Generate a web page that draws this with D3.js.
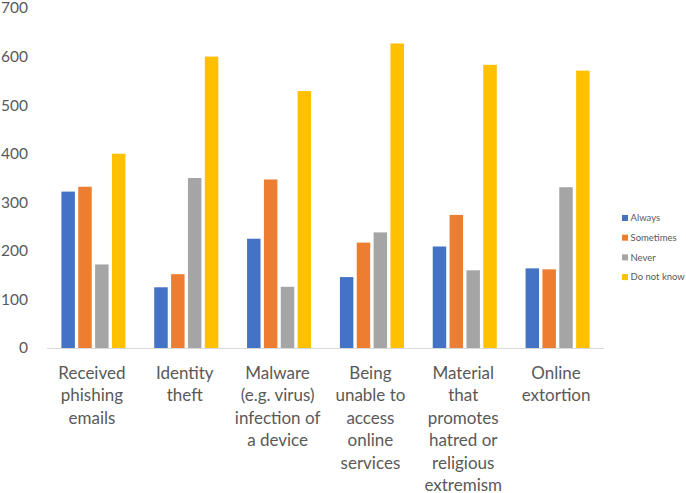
<!DOCTYPE html>
<html><head><meta charset="utf-8">
<script src="https://cdn.jsdelivr.net/npm/d3@7"></script>
<style>html,body{margin:0;padding:0;background:#fff;}svg{display:block;}</style>
</head><body>
<svg id="chart" width="686" height="493"></svg>
<script>
const categories = ["Received phishing emails","Identity theft","Malware (e.g. virus) infection of a device","Being unable to access online services","Material that promotes hatred or religious extremism","Online extortion"];
const categoryLines = [
  ["Received","phishing","emails"],
  ["Identity","theft"],
  ["Malware","(e.g. virus)","infection of","a device"],
  ["Being","unable to","access","online","services"],
  ["Material","that","promotes","hatred or","religious","extremism"],
  ["Online","extortion"]
];
const seriesNames = ["Always","Sometimes","Never","Do not know"];
const always    = [322, 125, 225, 146, 209, 164];
const sometimes = [332, 152, 347, 217, 274, 162];
const never     = [172, 350, 126, 238, 160, 331];
const doNotKnow = [400, 600, 529, 627, 583, 571];
const yTicks = [0,100,200,300,400,500,600,700];
const colors = ["#4472C4","#ED7D31","#A5A5A5","#FFC000"];

(function () {
const seriesValues = [always, sometimes, never, doNotKnow];
const svg = d3.select("#chart");
const mLeft = 47, mRight = 604, mTop = 8, mBottom = 348;

const x0 = d3.scaleBand().domain(categories).range([mLeft, mRight]).padding(0);
const groupPad = 14.4;
const x1 = d3.scaleBand().domain(seriesNames).range([groupPad, x0.bandwidth() - groupPad]).paddingInner(0.2).paddingOuter(0);
const y = d3.scaleLinear().domain([0, 700]).range([mBottom, mTop]);

const font = "Lato, 'Open Sans', sans-serif";

// y axis
const yAxis = svg.append("g").attr("transform", `translate(${mLeft},0)`)
  .call(d3.axisLeft(y).tickValues(yTicks).tickSize(0).tickPadding(19));
yAxis.select(".domain").remove();
yAxis.selectAll("text").attr("font-family", font).attr("font-size", 15.5).attr("fill", "#595959");

// bars
const groups = svg.append("g").selectAll("g").data(categories).join("g")
  .attr("transform", d => `translate(${x0(d)},0)`);
groups.selectAll("rect").data((d, i) => seriesNames.map((s, j) => ({s, v: seriesValues[j][i], c: colors[j]})))
  .join("rect")
  .attr("x", d => x1(d.s)).attr("width", x1.bandwidth())
  .attr("y", d => y(d.v)).attr("height", d => y(0) - y(d.v))
  .attr("fill", d => d.c);

// x axis line
svg.append("line").attr("x1", mLeft).attr("x2", mRight).attr("y1", mBottom + 0.5).attr("y2", mBottom + 0.5)
  .attr("stroke", "#D9D9D9").attr("stroke-width", 1);

// category labels
const lab = svg.append("g");
categories.forEach((c, i) => {
  const cx = x0(c) + x0.bandwidth() / 2 - 1.5;
  const t = lab.append("text").attr("x", cx).attr("y", 378.5)
    .attr("text-anchor", "middle").attr("font-family", font).attr("font-size", 17).attr("fill", "#595959");
  categoryLines[i].forEach((ln, k) => {
    t.append("tspan").attr("x", cx).attr("dy", k === 0 ? 0 : 22.5).text(ln);
  });
});

// legend
const leg = svg.append("g").attr("transform", "translate(622,218)");
seriesNames.forEach((s, j) => {
  const g = leg.append("g").attr("transform", `translate(0,${j * 19.7})`);
  g.append("rect").attr("x", 0).attr("y", -3).attr("width", 6).attr("height", 6).attr("fill", colors[j]);
  g.append("text").attr("x", 8.5).attr("y", 0).attr("dy", "0.35em")
    .attr("font-family", font).attr("font-size", 9.5).attr("fill", "#595959").text(s);
});
})();
</script>
</body></html>
